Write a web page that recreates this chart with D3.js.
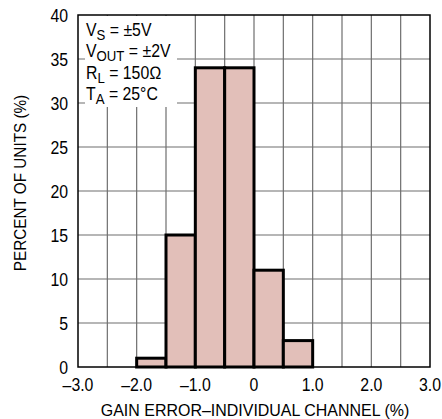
<!DOCTYPE html>
<html>
<head>
<meta charset="utf-8">
<script src="https://cdn.jsdelivr.net/npm/d3@7"></script>
<style>
  body { margin: 0; background: #fff; }
  svg { font-family: "Liberation Sans", Arial, sans-serif; }
  .tick-label { font-size: 18px; fill: #000; }
  .axis-title { font-size: 17px; fill: #000; }
  .note { font-size: 18px; fill: #000; }
</style>
</head>
<body>
<div id="chart"></div>
<script>
// histogram bins (gain error %, lower / upper edges) and percent of units
const binStarts = [-2.0, -1.5, -1.0, -0.5, 0.0, 0.5];
const binEnds = [-1.5, -1.0, -0.5, 0.0, 0.5, 1.0];
const percentOfUnits = [1, 15, 34, 34, 11, 3];

const xTicks = [-3, -2, -1, 0, 1, 2, 3];
const xTickLabels = ["\u20133.0", "\u20132.0", "\u20131.0", "0", "1.0", "2.0", "3.0"];
const xGrid = [-2.5, -2, -1.5, -1, -0.5, 0, 0.5, 1, 1.5, 2, 2.5];
const yTicks = [0, 5, 10, 15, 20, 25, 30, 35, 40];

const margin = { top: 15, right: 12, bottom: 52, left: 78 };
const widthWithMargin = 442;
const heightWithMargin = 419;
const width = widthWithMargin - margin.left - margin.right;
const height = heightWithMargin - margin.top - margin.bottom;
const narrow = 0.88;   // condensed look of the original lettering

const svg = d3.select('#chart').append('svg')
    .attr('width', widthWithMargin)
    .attr('height', heightWithMargin);

const g = svg.append('g')
    .attr('transform', `translate(${margin.left}, ${margin.top})`);

const xScale = d3.scaleLinear().domain([-3, 3]).range([0, width]);
const yScale = d3.scaleLinear().domain([0, 40]).range([height, 0]);

function addText(parent, x, y, cls, anchor, str, angle = 0, sx = narrow) {
    return parent.append('g')
        .attr('transform', `translate(${x}, ${y}) rotate(${angle}) scale(${sx}, 1)`)
        .append('text')
        .attr('class', cls)
        .attr('text-anchor', anchor)
        .text(str);
}

// grid
g.append('g').selectAll('line')
    .data(xGrid)
    .enter().append('line')
    .attr('x1', d => xScale(d)).attr('x2', d => xScale(d))
    .attr('y1', 0).attr('y2', height)
    .attr('stroke', '#6e6e6e').attr('stroke-width', 1.2);

g.append('g').selectAll('line')
    .data(yTicks.slice(1, -1))
    .enter().append('line')
    .attr('x1', 0).attr('x2', width)
    .attr('y1', d => yScale(d)).attr('y2', d => yScale(d))
    .attr('stroke', '#6e6e6e').attr('stroke-width', 1.2);

// bars
g.append('g').selectAll('rect')
    .data(percentOfUnits)
    .enter().append('rect')
    .attr('x', (d, i) => xScale(binStarts[i]))
    .attr('width', (d, i) => xScale(binEnds[i]) - xScale(binStarts[i]))
    .attr('y', d => yScale(d))
    .attr('height', d => height - yScale(d))
    .attr('fill', '#e2bfb9')
    .attr('stroke', '#000')
    .attr('stroke-width', 3);

// white box behind conditions
g.append('rect')
    .attr('x', 7).attr('y', 1)
    .attr('width', 92).attr('height', 91)
    .attr('fill', '#fff');

// frame
g.append('rect')
    .attr('width', width).attr('height', height)
    .attr('fill', 'none').attr('stroke', '#000').attr('stroke-width', 1.5);

// tick labels
yTicks.forEach(d => {
    addText(g, -10, yScale(d) + 6.5, 'tick-label', 'end', d);
});

xTicks.forEach((d, i) => {
    addText(g, xScale(d), height + 24, 'tick-label', 'middle', xTickLabels[i]);
});

// axis titles
addText(g, width / 2 + 1, height + 49, 'axis-title', 'middle', 'GAIN ERROR\u2013INDIVIDUAL CHANNEL (%)', 0, 0.94);
addText(g, -52, height / 2 - 8, 'axis-title', 'middle', 'PERCENT OF UNITS (%)', -90, 0.9);

// conditions
const notes = [
    ['V', 'S', ' = \u00b15V'],
    ['V', 'OUT', ' = \u00b12V'],
    ['R', 'L', ' = 150\u2126'],
    ['T', 'A', ' = 25\u00b0C']
];
notes.forEach((n, i) => {
    const t = g.append('g')
        .attr('transform', `translate(8, ${21 + i * 21.3}) scale(${narrow}, 1)`)
        .append('text')
        .attr('class', 'note');
    t.append('tspan').text(n[0]);
    t.append('tspan').attr('dy', 4).attr('font-size', 15).text(n[1]);
    t.append('tspan').attr('dy', -4).text(n[2]);
});
</script>
</body>
</html>
